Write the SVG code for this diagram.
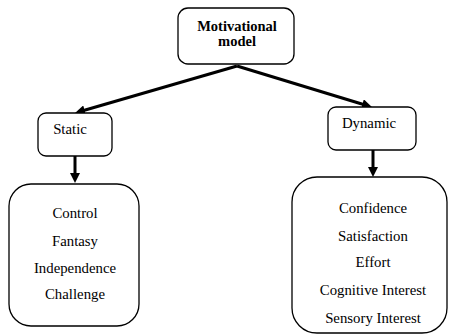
<svg xmlns="http://www.w3.org/2000/svg" width="449" height="335" viewBox="0 0 449 335">
<style>
.box{fill:#fff;stroke:#000;stroke-width:1.3}
.t{font-family:"Liberation Serif","Times New Roman",serif;font-size:14.8px;fill:#000;text-anchor:middle}
.b{font-weight:bold;font-size:14.5px}
.c{stroke:#000;stroke-width:3;fill:none}
</style>
<defs>
<marker id="ah" markerUnits="userSpaceOnUse" markerWidth="12" markerHeight="10" refX="2" refY="5" orient="auto">
<path d="M0,0 L10,5 L0,10 z" fill="#000"/>
</marker>
</defs>
<rect width="449" height="335" fill="#fff"/>
<g id="connectors">
<line class="c" x1="237" y1="66" x2="82.7" y2="110.8" marker-end="url(#ah)"/>
<line class="c" x1="237" y1="66" x2="364.3" y2="104.7" marker-end="url(#ah)"/>
<line class="c" x1="75" y1="156" x2="75" y2="175" marker-end="url(#ah)"/>
<line class="c" x1="373" y1="150" x2="373" y2="169" marker-end="url(#ah)"/>
</g>
<g id="motivational">
<rect class="box" x="178" y="8" width="116" height="56" rx="10"/>
<text class="t b" x="237" y="31">Motivational</text>
<text class="t b" x="237" y="46">model</text>
</g>
<g id="static">
<rect class="box" x="38" y="113" width="74" height="43" rx="8"/>
<text class="t" x="70" y="134">Static</text>
</g>
<g id="dynamic">
<rect class="box" x="328" y="107" width="88" height="43" rx="8"/>
<text class="t" x="369" y="128">Dynamic</text>
</g>
<g id="static-list">
<rect class="box" x="9" y="184" width="130" height="142" rx="22"/>
<text class="t" x="75" y="218">Control</text>
<text class="t" x="75" y="246">Fantasy</text>
<text class="t" x="75" y="273">Independence</text>
<text class="t" x="75" y="299">Challenge</text>
</g>
<g id="dynamic-list">
<rect class="box" x="292" y="177" width="155" height="156" rx="25"/>
<text class="t" x="373" y="213">Confidence</text>
<text class="t" x="373" y="241">Satisfaction</text>
<text class="t" x="373" y="267">Effort</text>
<text class="t" x="373" y="295">Cognitive Interest</text>
<text class="t" x="373" y="323">Sensory Interest</text>
</g>
</svg>
